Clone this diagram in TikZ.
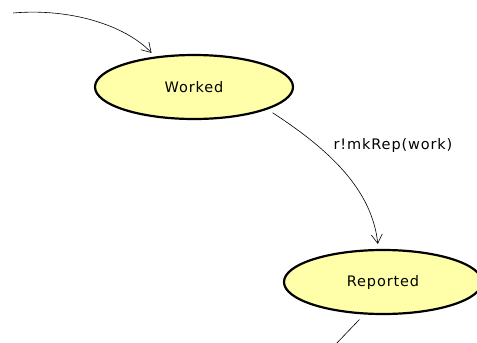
\documentclass[tikz,border=0pt]{standalone}
\usepackage{fontspec}
\setmainfont[LetterSpace=6]{DejaVu Sans}
\usetikzlibrary{shapes.geometric,arrows.meta}
\definecolor{statefill}{RGB}{255,255,170}
\tikzset{
  state/.style={ellipse, draw=black, line width=2.2pt, fill=statefill,
    minimum width=198pt, minimum height=64pt, inner sep=0pt,
    font=\fontsize{14.5}{16}\selectfont},
  trans/.style={draw=black, line width=0.6pt,
    -{Straight Barb[length=9pt,width=11pt,line width=0.6pt]}},
  plain/.style={draw=black, line width=0.6pt},
  elabel/.style={font=\fontsize{14.5}{16}\selectfont, inner sep=0pt}
}
\begin{document}
\begin{tikzpicture}[x=1pt,y=-1pt]
\useasboundingbox (0,0) rectangle (477,343);
\node[state] (worked) at (194,87) {Worked};
\node[state] (reported) at (383,282) {Reported};
\coordinate (start) at (13,13);
\coordinate (out) at (335,345);
\node[elabel] (lbl) at (393,145) {r!mkRep(work)};
\draw[trans, shorten >=5pt] (start) .. controls (70,8) and (125,25) .. (worked.142);
\draw[trans, shorten <=6pt, shorten >=5pt] (worked.-17) .. controls (330,150) and (372,190) .. (reported.98);
\draw[plain, shorten <=7pt] (reported.-120) -- (out);
\end{tikzpicture}
\end{document}
